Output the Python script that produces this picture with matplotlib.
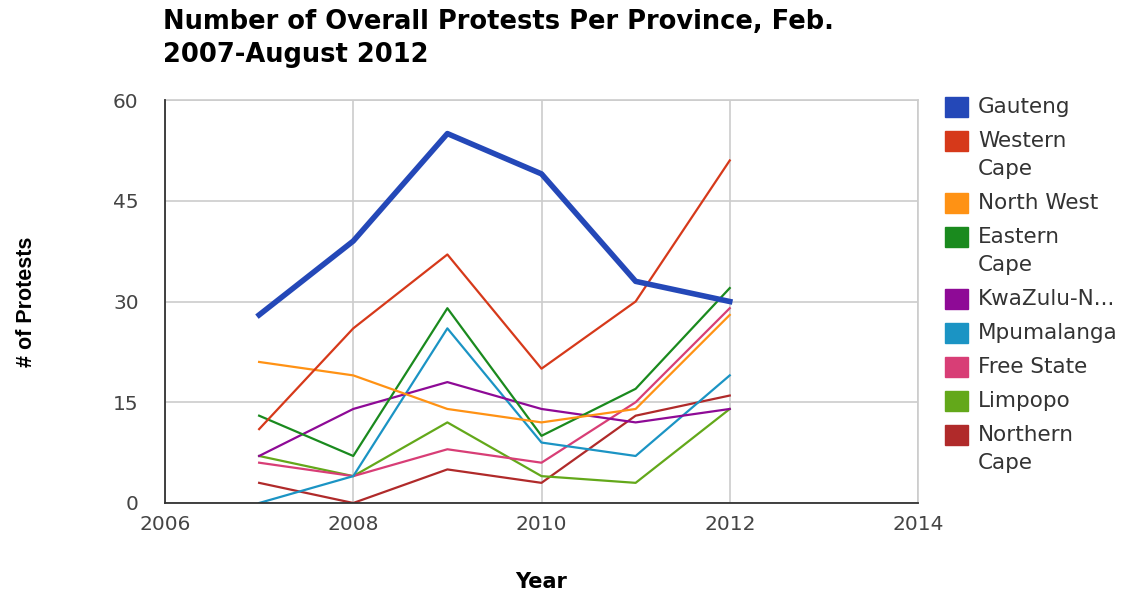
import matplotlib
matplotlib.use('Agg')
import matplotlib.pyplot as plt
from matplotlib.patches import Rectangle

plt.rcParams['font.family'] = ['DejaVu Sans']

# data
years = [2007, 2008, 2009, 2010, 2011, 2012]
provinces = ['Gauteng', 'Western\nCape', 'North West', 'Eastern\nCape', 'KwaZulu-N...',
             'Mpumalanga', 'Free State', 'Limpopo', 'Northern\nCape']
gauteng = [28, 39, 55, 49, 33, 30]
western_cape = [11, 26, 37, 20, 30, 51]
north_west = [21, 19, 14, 12, 14, 28]
eastern_cape = [13, 7, 29, 10, 17, 32]
kwazulu_natal = [7, 14, 18, 14, 12, 14]
mpumalanga = [0, 4, 26, 9, 7, 19]
free_state = [6, 4, 8, 6, 15, 29]
limpopo = [7, 4, 12, 4, 3, 14]
northern_cape = [3, 0, 5, 3, 13, 16]
series = [gauteng, western_cape, north_west, eastern_cape, kwazulu_natal,
          mpumalanga, free_state, limpopo, northern_cape]
colors = ['#2448b8', '#d6391a', '#ff9214', '#1a8a1e', '#8e0a96',
          '#1b94c4', '#d83e76', '#63a81a', '#b02a2a']

fig = plt.figure(figsize=(11.3, 5.94), dpi=100)
ax = fig.add_axes([165/1130, 91/594, (918-165)/1130, (503-100)/594])

# draw thin lines first, Gauteng on top
for i in range(len(series) - 1, -1, -1):
    lw = 4.0 if i == 0 else 1.6
    ax.plot(years, series[i], color=colors[i], linewidth=lw, zorder=3 + (10 if i == 0 else 0))

ax.set_xlim(2006, 2014)
ax.set_ylim(0, 60)
ax.set_xticks([2006, 2008, 2010, 2012, 2014])
ax.set_yticks([0, 15, 30, 45, 60])
ax.grid(True, color='#cccccc', linewidth=1.2)
ax.set_axisbelow(True)
for s in ['top', 'right']:
    ax.spines[s].set_color('#cccccc')
    ax.spines[s].set_linewidth(1.2)
for s in ['left', 'bottom']:
    ax.spines[s].set_color('#333333')
    ax.spines[s].set_linewidth(1.3)
    ax.spines[s].set_zorder(20)
ax.tick_params(length=0, labelsize=14.5, colors='#444444')
ax.tick_params(axis='x', pad=9)
ax.tick_params(axis='y', pad=19)

fig.text(541/1130, 1 - 582/594, 'Year', fontsize=15, fontweight='bold',
         ha='center', va='center')
fig.text(27/1130, 1 - 302/594, '# of Protests', rotation=90, fontsize=15.5,
         family='Liberation Sans', fontweight='bold', ha='center', va='center')
fig.text(163/1130, 1 - 22/594, 'Number of Overall Protests Per Province, Feb.',
         fontsize=18.5, fontweight='bold', ha='left', va='center')
fig.text(163/1130, 1 - 55/594, '2007-August 2012',
         fontsize=18.5, fontweight='bold', ha='left', va='center')

# legend
y = 107
for name, c in zip(provinces, colors):
    fig.patches.append(Rectangle((945/1130, 1 - (y + 10)/594), 23/1130, 20/594,
                                 transform=fig.transFigure, color=c))
    for k, part in enumerate(name.split('\n')):
        fig.text(978/1130, 1 - (y + k*28)/594, part, fontsize=15.5,
                 color='#333333', ha='left', va='center')
    y += 34 + 28*name.count('\n')

fig.savefig('out.png', dpi=100)
